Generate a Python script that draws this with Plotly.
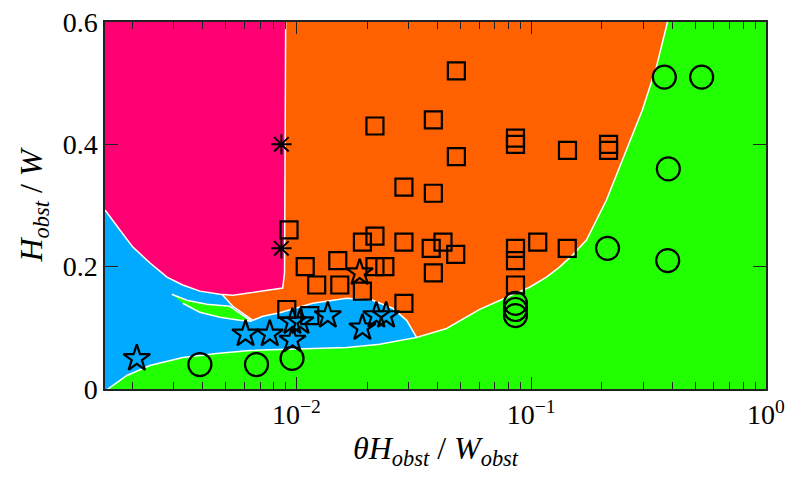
import plotly.graph_objects as go
import numpy as np

# ---------------- data ----------------
sq_x = [0.0480, 0.0216, 0.0383, 0.0857, 0.0857, 0.1427, 0.2135, 0.2135, 0.0480,
        0.0287, 0.0383, 0.0093, 0.0216, 0.0191, 0.0287, 0.0375, 0.0421, 0.0477,
        0.0857, 0.0857, 0.1066, 0.1424, 0.0150, 0.0109, 0.0216, 0.0238, 0.0383,
        0.0122, 0.0153, 0.0191, 0.0287, 0.0091, 0.0114, 0.0857]
sq_y = [0.52, 0.43, 0.44, 0.41, 0.40, 0.39, 0.40, 0.39, 0.38,
        0.33, 0.32, 0.26, 0.25, 0.24, 0.24, 0.23, 0.24, 0.22,
        0.23, 0.21, 0.24, 0.23, 0.21, 0.20, 0.20, 0.20, 0.19,
        0.17, 0.17, 0.16, 0.14, 0.13, 0.12, 0.17]

ci_x = [0.00388, 0.00676, 0.00958, 0.0857, 0.0857, 0.0857, 0.2114, 0.3814, 0.369, 0.532, 0.3838]
ci_y = [0.04, 0.04, 0.05, 0.14, 0.13, 0.12, 0.23, 0.21, 0.51, 0.51, 0.36]

st_x = [0.00209, 0.00607, 0.0077, 0.00962, 0.00962, 0.0104, 0.0136, 0.0191, 0.0219, 0.0241, 0.0186]
st_y = [0.05, 0.09, 0.09, 0.08, 0.11, 0.11, 0.12, 0.10, 0.12, 0.12, 0.19]

as_x = [0.00863, 0.00863]
as_y = [0.40, 0.23]

# region boundaries (data coordinates)
magenta_x = [0.0010, 0.0090, 0.0090, 0.00895, 0.0089, 0.00874, 0.00748, 0.00633, 0.00536,
             0.00472, 0.00388, 0.00328, 0.00281, 0.00238, 0.00201, 0.00177, 0.001543, 0.00126, 0.0010]
magenta_y = [0.65, 0.65, 0.60, 0.35, 0.19, 0.165, 0.1615, 0.1566, 0.1533,
             0.155, 0.160, 0.170, 0.183, 0.206, 0.232, 0.260, 0.291, 0.316, 0.316]

orange_x = [0.0090, 0.4055, 0.3765, 0.3413, 0.2976, 0.2446, 0.2091, 0.1719, 0.1499, 0.1319,
            0.1161, 0.0984, 0.0785, 0.0603, 0.0436, 0.0325,
            0.02947, 0.0257, 0.02113, 0.01637, 0.01173, 0.00849, 0.00719, 0.00652,
            0.00536, 0.00481, 0.00481]
orange_y = [0.65, 0.65, 0.5926, 0.527, 0.4566, 0.3746, 0.309, 0.2434, 0.2189, 0.1992,
            0.1828, 0.1664, 0.150, 0.1303, 0.0989, 0.0844,
            0.1123, 0.132, 0.1451, 0.1484, 0.1402, 0.1246, 0.1189, 0.1123,
            0.1352, 0.155, 0.65]

blue_x = [0.0010, 0.0010, 0.00125, 0.001574, 0.001896, 0.002375, 0.003282, 0.00458, 0.006328,
          0.009094, 0.01256, 0.01637, 0.02262, 0.03126, 0.0325, 0.0325]
blue_y = [0.65, -0.05, -0.03, 0.0, 0.0221, 0.0385, 0.0516, 0.0582, 0.0631,
          0.0648, 0.0664, 0.068, 0.073, 0.0828, 0.0844, 0.65]

sliver_x = [0.002946, 0.003413, 0.004148, 0.005202, 0.006452, 0.005737, 0.004716, 0.003878, 0.003282]
sliver_y = [0.155, 0.1451, 0.1385, 0.1352, 0.1107, 0.1123, 0.1172, 0.1254, 0.1402]

x_ticks = [0.01, 0.1, 1.0]
x_ticktext = ['10<sup>−2</sup>', '10<sup>−1</sup>', '10<sup>0</sup>']
x_minor = [m * 10.0 ** e for e in (-3, -2, -1) for m in range(2, 10)]
y_ticks = [0, 0.2, 0.4, 0.6]
y_ticktext = ['0', '0.2', '0.4', '0.6']

# ---------------- styling ----------------
GREEN = '#22ff00'
BLUE = '#00aaff'
ORANGE = '#ff6000'
MAGENTA = '#ff0073'
FONT = 'Liberation Serif'

fig = go.Figure()

def region(xs, ys, color):
    fig.add_trace(go.Scatter(x=xs, y=ys, mode='lines', fill='toself', fillcolor=color,
                             line=dict(color='white', width=1.5), hoverinfo='skip',
                             showlegend=False))

region(blue_x, blue_y, BLUE)
region(orange_x, orange_y, ORANGE)
region(magenta_x, magenta_y, MAGENTA)
region(sliver_x, sliver_y, GREEN)

def pts(xs, ys, symbol, size, lw=2.2):
    fig.add_trace(go.Scatter(x=xs, y=ys, mode='markers', showlegend=False,
                             marker=dict(symbol=symbol, size=size, color='black',
                                         line=dict(color='black', width=lw))))

pts(sq_x, sq_y, 'square-open', 17)
pts(ci_x, ci_y, 'circle-open', 23)
pts(st_x, st_y, 'star-open', 20)
pts(as_x, as_y, 'asterisk-open', 17, 2.0)

tick_font = dict(family=FONT, size=28, color='black')
title_font = dict(family=FONT, size=32, color='black')
axis_common = dict(showline=True, linecolor='#222', linewidth=1.5, mirror='ticks',
                   ticks='inside', tickcolor='#222', showgrid=False, zeroline=False,
                   automargin=False, tickfont=tick_font, ticklabeloverflow='allow')

fig.update_xaxes(type='log', range=[np.log10(0.00153), 0], tickmode='array',
                 tickvals=x_ticks, ticktext=x_ticktext, ticklen=12, tickwidth=1.3,
                 minor=dict(tickmode='array', tickvals=x_minor, ticks='inside', ticklen=7,
                            tickwidth=1.1, tickcolor='#222', showgrid=False),
                 title=dict(text='<i>θH</i><sub><i>obst</i></sub> / <i>W</i><sub><i>obst</i></sub>',
                            font=title_font, standoff=4),
                 **axis_common)
fig.update_yaxes(range=[0, 0.6], tickmode='array', tickvals=y_ticks, ticktext=y_ticktext,
                 ticklen=13, tickwidth=1.3,
                 title=dict(text='<i>H</i><sub><i>obst</i></sub> / <i>W</i>',
                            font=title_font, standoff=10),
                 **axis_common)

fig.update_layout(width=787, height=477, margin=dict(l=105, r=21, t=22, b=88, autoexpand=False),
                  font=dict(family=FONT, size=28, color='black'),
                  plot_bgcolor=GREEN, paper_bgcolor='white', showlegend=False)

# remove the browser's default 8 px body margin so the figure fills the window exactly
fig.write_html('out.html', config={'displayModeBar': False},
               post_script="document.body.style.margin='0';document.body.style.overflow='hidden';")
